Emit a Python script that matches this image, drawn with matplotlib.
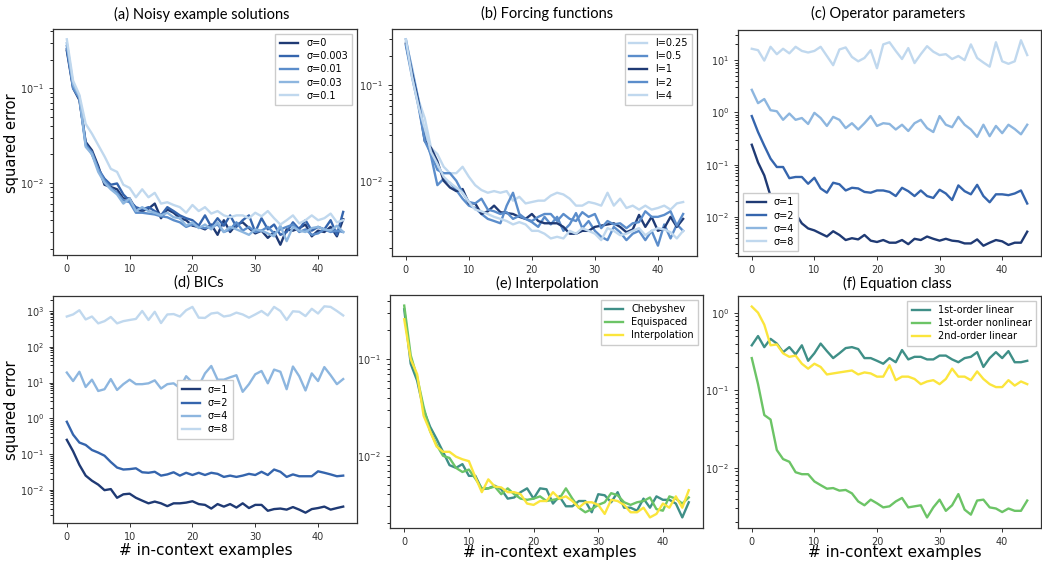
import matplotlib
matplotlib.use("Agg")
import matplotlib.pyplot as plt

x = list(range(45))

# (a) Noisy example solutions
a_labels = ["σ=0", "σ=0.003", "σ=0.01", "σ=0.03", "σ=0.1"]
a_s0 = [0.25, 0.10, 0.075, 0.027, 0.022, 0.015, 0.0095, 0.009, 0.0085, 0.0068, 0.0068, 0.0052, 0.0050, 0.0053, 0.0060,
        0.0042, 0.0052, 0.0048, 0.0042, 0.0040, 0.0035, 0.0034, 0.0032, 0.0036, 0.0028, 0.0040, 0.0030, 0.0036, 0.0038,
        0.0033, 0.0029, 0.0031, 0.0026, 0.0030, 0.0022, 0.0032, 0.0031, 0.0033, 0.0036, 0.0027, 0.0031, 0.0030, 0.0034,
        0.0027, 0.0041]
a_s1 = [0.26, 0.105, 0.08, 0.026, 0.020, 0.014, 0.011, 0.0095, 0.0098, 0.0075, 0.0064, 0.0055, 0.0052, 0.0055, 0.0050,
        0.0045, 0.0055, 0.0050, 0.0045, 0.0042, 0.0040, 0.0035, 0.0045, 0.0034, 0.0042, 0.0035, 0.0045, 0.0034, 0.0040,
        0.0045, 0.0030, 0.0042, 0.0032, 0.0036, 0.0028, 0.0030, 0.0038, 0.0032, 0.0040, 0.0031, 0.0034, 0.0032, 0.0040,
        0.0028, 0.0049]
a_s2 = [0.28, 0.10, 0.078, 0.025, 0.021, 0.014, 0.0105, 0.0088, 0.0078, 0.0065, 0.0062, 0.0048, 0.0048, 0.0047, 0.0046,
        0.0044, 0.0043, 0.0040, 0.0038, 0.0034, 0.0036, 0.0034, 0.0033, 0.0034, 0.0036, 0.0030, 0.0032, 0.0038, 0.0031,
        0.0034, 0.0030, 0.0031, 0.0034, 0.0029, 0.0032, 0.0034, 0.0036, 0.0030, 0.0032, 0.0028, 0.0029, 0.0032, 0.0030,
        0.0031, 0.0030]
a_s3 = [0.30, 0.11, 0.082, 0.024, 0.020, 0.013, 0.0100, 0.0085, 0.0075, 0.0060, 0.0068, 0.0050, 0.0055, 0.0050, 0.0048,
        0.0045, 0.0048, 0.0043, 0.0042, 0.0035, 0.0038, 0.0033, 0.0036, 0.0032, 0.0038, 0.0030, 0.0034, 0.0032, 0.0030,
        0.0028, 0.0032, 0.0031, 0.0029, 0.0027, 0.0035, 0.0024, 0.0034, 0.0031, 0.0030, 0.0033, 0.0034, 0.0032, 0.0031,
        0.0035, 0.0030]
a_s4 = [0.33, 0.12, 0.085, 0.042, 0.033, 0.025, 0.019, 0.014, 0.013, 0.0095, 0.0088, 0.0070, 0.0085, 0.0070, 0.0078,
        0.0060, 0.0062, 0.0058, 0.0055, 0.0048, 0.0058, 0.0050, 0.0055, 0.0047, 0.0050, 0.0045, 0.0043, 0.0045, 0.0045,
        0.0042, 0.0048, 0.0044, 0.0050, 0.0042, 0.0036, 0.0040, 0.0045, 0.0037, 0.0040, 0.0045, 0.0040, 0.0042, 0.0047,
        0.0038, 0.0040]

# (b) Forcing functions
b_labels = ["l=0.25", "l=0.5", "l=1", "l=2", "l=4"]
b_l025 = [0.28, 0.15, 0.07, 0.045, 0.022, 0.019, 0.014, 0.012, 0.012, 0.014, 0.011, 0.009, 0.008, 0.0075, 0.0078,
          0.0075, 0.0078, 0.0062, 0.0068, 0.0058, 0.0060, 0.0062, 0.0062, 0.0070, 0.0075, 0.0072, 0.0065, 0.0055, 0.0055,
          0.0060, 0.0058, 0.0055, 0.0075, 0.0055, 0.0065, 0.0052, 0.0055, 0.0050, 0.0055, 0.0050, 0.0052, 0.0055, 0.0050,
          0.0058, 0.0060]
b_l05 = [0.30, 0.14, 0.07, 0.03, 0.018, 0.009, 0.0105, 0.0095, 0.0080, 0.0065, 0.0055, 0.0052, 0.0045, 0.0040, 0.0038,
         0.0036, 0.0055, 0.0075, 0.0045, 0.0040, 0.0037, 0.0033, 0.0042, 0.0035, 0.0042, 0.0030, 0.0035, 0.0046, 0.0032,
         0.0038, 0.0030, 0.0026, 0.0024, 0.0033, 0.0029, 0.0024, 0.0028, 0.0030, 0.0024, 0.0030, 0.0021, 0.0035, 0.0025,
         0.0035, 0.0030]
b_l1 = [0.27, 0.13, 0.065, 0.026, 0.022, 0.016, 0.010, 0.0085, 0.0078, 0.0082, 0.0058, 0.0058, 0.0045, 0.0048, 0.0055,
        0.0047, 0.0046, 0.0045, 0.0042, 0.0040, 0.0045, 0.0038, 0.0036, 0.0036, 0.0036, 0.0033, 0.0028, 0.0028, 0.0030,
        0.0030, 0.0033, 0.0034, 0.0035, 0.0036, 0.0033, 0.0029, 0.0031, 0.0044, 0.0033, 0.0042, 0.0030, 0.0032, 0.0042,
        0.0033, 0.0040]
b_l2 = [0.26, 0.12, 0.06, 0.026, 0.019, 0.013, 0.012, 0.012, 0.010, 0.0075, 0.0060, 0.0058, 0.0065, 0.0050, 0.0048,
        0.0045, 0.0047, 0.0040, 0.0043, 0.0040, 0.0038, 0.0042, 0.0045, 0.0045, 0.0038, 0.0045, 0.0040, 0.0038, 0.0047,
        0.0042, 0.0045, 0.0032, 0.0038, 0.0035, 0.0036, 0.0032, 0.0036, 0.0037, 0.0048, 0.0042, 0.0042, 0.0044, 0.0048,
        0.0034, 0.0045]
b_l4 = [0.30, 0.12, 0.06, 0.035, 0.020, 0.015, 0.011, 0.0095, 0.0085, 0.0075, 0.0060, 0.0050, 0.0048, 0.0045, 0.0042,
        0.0040, 0.0038, 0.0035, 0.0037, 0.0035, 0.0030, 0.0030, 0.0028, 0.0025, 0.0026, 0.0025, 0.0030, 0.0028, 0.0032,
        0.0030, 0.0028, 0.0024, 0.0032, 0.0030, 0.0027, 0.0028, 0.0030, 0.0032, 0.0027, 0.0030, 0.0032, 0.0031, 0.0029,
        0.0025, 0.0030]

# (c) Operator parameters
c_labels = ["σ=1", "σ=2", "σ=4", "σ=8"]
c_s1 = [0.24, 0.11, 0.062, 0.025, 0.023, 0.017, 0.009, 0.0115, 0.0075, 0.006, 0.0055, 0.0048, 0.0042, 0.0053, 0.0045,
        0.0036, 0.0039, 0.0037, 0.0045, 0.0035, 0.0033, 0.0036, 0.0032, 0.0032, 0.0036, 0.0030, 0.0038, 0.0036, 0.0042,
        0.0038, 0.0035, 0.0038, 0.0035, 0.0034, 0.0031, 0.0031, 0.0037, 0.0028, 0.0032, 0.0036, 0.0034, 0.0029, 0.0032,
        0.0032, 0.0052]
c_s2 = [0.85, 0.42, 0.23, 0.13, 0.09, 0.09, 0.055, 0.058, 0.058, 0.043, 0.056, 0.035, 0.029, 0.045, 0.042, 0.032, 0.036,
        0.035, 0.030, 0.029, 0.032, 0.032, 0.030, 0.025, 0.036, 0.031, 0.025, 0.032, 0.025, 0.023, 0.033, 0.028, 0.021,
        0.040, 0.031, 0.027, 0.041, 0.025, 0.019, 0.027, 0.027, 0.026, 0.028, 0.032, 0.018]
c_s4 = [2.7, 1.5, 1.8, 1.1, 1.05, 0.72, 0.95, 0.72, 0.78, 0.6, 0.98, 0.78, 0.55, 0.82, 0.72, 0.5, 0.62, 0.47, 0.62, 0.85,
        0.55, 0.62, 0.6, 0.47, 0.58, 0.44, 0.62, 0.72, 0.5, 0.42, 0.85, 0.58, 0.52, 0.82, 0.58, 0.47, 0.34, 0.58, 0.35,
        0.55, 0.4, 0.58, 0.48, 0.38, 0.58]
c_s8 = [16.5, 15.5, 9.8, 18, 13, 16.5, 13.5, 18, 15, 14, 15, 18, 12, 8, 16, 17.5, 11.5, 9.5, 11, 15.5, 7, 20, 22, 15,
        10.5, 17, 8.8, 13, 18.5, 14.5, 12.5, 13, 10.5, 12, 10, 20, 11, 9, 7.5, 22, 9.5, 8.5, 9.5, 24, 12.5]

# (d) BICs
d_labels = ["σ=1", "σ=2", "σ=4", "σ=8"]
d_s1 = [0.25, 0.12, 0.05, 0.025, 0.018, 0.014, 0.0098, 0.0105, 0.006, 0.0075, 0.0078, 0.006, 0.005, 0.0042, 0.0047,
        0.0042, 0.0035, 0.0042, 0.0042, 0.0044, 0.0048, 0.0040, 0.0038, 0.0030, 0.0040, 0.0034, 0.0040, 0.0032, 0.0042,
        0.0031, 0.0038, 0.0038, 0.0026, 0.0029, 0.0030, 0.0028, 0.0033, 0.0028, 0.0023, 0.0029, 0.0031, 0.0034, 0.0028,
        0.0031, 0.0034]
d_s2 = [0.8, 0.35, 0.21, 0.18, 0.13, 0.11, 0.09, 0.06, 0.042, 0.037, 0.038, 0.04, 0.031, 0.03, 0.032, 0.025, 0.027,
        0.031, 0.025, 0.03, 0.026, 0.03, 0.026, 0.03, 0.028, 0.023, 0.025, 0.023, 0.025, 0.028, 0.026, 0.032, 0.026,
        0.037, 0.032, 0.023, 0.027, 0.024, 0.024, 0.024, 0.033, 0.03, 0.027, 0.024, 0.025]
d_s4 = [19, 11, 20, 7.5, 12, 5.8, 6.5, 12.5, 6.2, 9, 12, 9, 9, 9.5, 11.5, 6.8, 9, 9.5, 7, 15, 10, 8, 18, 29, 12, 12,
        14, 16, 5.5, 9, 17, 21, 9.5, 23, 20, 6.5, 28, 15, 6, 18, 11, 27, 16, 9, 12.5]
d_s8 = [700, 800, 1050, 580, 700, 450, 520, 680, 450, 520, 560, 600, 1000, 560, 950, 460, 800, 820, 700, 1050, 1300,
        650, 640, 850, 900, 700, 750, 900, 800, 650, 800, 1000, 750, 1300, 1000, 560, 980, 950, 720, 1150, 850, 1350,
        1300, 1000, 750]

# (e) Interpolation
e_labels = ["Chebyshev", "Equispaced", "Interpolation"]
e_cheb = [0.33, 0.09, 0.06, 0.03, 0.02, 0.015, 0.011, 0.008, 0.0075, 0.0082, 0.0062, 0.0062, 0.0045, 0.0046, 0.0049,
          0.0045, 0.0036, 0.0037, 0.0042, 0.0046, 0.0036, 0.0046, 0.0045, 0.0032, 0.0038, 0.0030, 0.0030, 0.0034, 0.0034,
          0.0026, 0.0040, 0.0039, 0.0033, 0.0042, 0.0029, 0.0029, 0.0027, 0.0036, 0.0029, 0.0038, 0.0035, 0.0035, 0.0032,
          0.0023, 0.0033]
e_equi = [0.36, 0.11, 0.065, 0.032, 0.018, 0.013, 0.010, 0.0095, 0.0075, 0.0068, 0.0072, 0.0058, 0.0046, 0.0046, 0.0048,
          0.0040, 0.0046, 0.0040, 0.0036, 0.0035, 0.0036, 0.0038, 0.0034, 0.0035, 0.0036, 0.0046, 0.0036, 0.0029, 0.0026,
          0.0028, 0.0031, 0.0033, 0.0041, 0.0039, 0.0033, 0.0031, 0.0033, 0.0034, 0.0037, 0.0028, 0.0027, 0.0038, 0.0036,
          0.0032, 0.0037]
e_interp = [0.26, 0.10, 0.07, 0.026, 0.018, 0.0125, 0.011, 0.011, 0.0098, 0.0092, 0.0088, 0.006, 0.0042, 0.0057, 0.0048,
            0.0047, 0.0042, 0.0042, 0.0040, 0.0032, 0.0031, 0.0034, 0.0034, 0.0042, 0.0036, 0.0038, 0.0034, 0.0029,
            0.0033, 0.0033, 0.0031, 0.0025, 0.0035, 0.0034, 0.0031, 0.0026, 0.0026, 0.0029, 0.0023, 0.0025, 0.0032,
            0.0029, 0.0038, 0.0029, 0.0044]

# (f) Equation class
f_labels = ["1st-order linear", "1st-order nonlinear", "2nd-order linear"]
f_lin1 = [0.38, 0.5, 0.36, 0.46, 0.4, 0.31, 0.36, 0.29, 0.38, 0.24, 0.3, 0.4, 0.32, 0.26, 0.3, 0.35, 0.36, 0.34, 0.26,
          0.26, 0.24, 0.22, 0.26, 0.23, 0.33, 0.25, 0.27, 0.27, 0.25, 0.25, 0.28, 0.28, 0.25, 0.23, 0.26, 0.27, 0.31, 0.2,
          0.26, 0.31, 0.26, 0.32, 0.23, 0.23, 0.24]
f_nonlin1 = [0.26, 0.12, 0.048, 0.042, 0.017, 0.013, 0.012, 0.0088, 0.0083, 0.0083, 0.0067, 0.006, 0.0054, 0.0055,
             0.0051, 0.0052, 0.0047, 0.0037, 0.0033, 0.0039, 0.0035, 0.0031, 0.0032, 0.0037, 0.0041, 0.0031, 0.0032,
             0.0033, 0.0023, 0.0031, 0.0039, 0.0028, 0.0033, 0.0046, 0.0029, 0.0025, 0.0038, 0.0039, 0.0031, 0.0030,
             0.0027, 0.0030, 0.0028, 0.0028, 0.0038]
f_lin2 = [1.2, 1.0, 0.7, 0.38, 0.39, 0.3, 0.27, 0.28, 0.22, 0.19, 0.22, 0.2, 0.16, 0.165, 0.17, 0.175, 0.18, 0.16, 0.17,
          0.165, 0.15, 0.15, 0.21, 0.135, 0.15, 0.15, 0.14, 0.12, 0.13, 0.135, 0.12, 0.14, 0.19, 0.15, 0.15, 0.135, 0.175,
          0.14, 0.12, 0.11, 0.11, 0.135, 0.115, 0.13, 0.12]

# ---------------- styling ----------------
W, H = 1042, 566
fig = plt.figure(figsize=(W / 100, H / 100), dpi=100)

NAVY, B2, B3, B4, B5 = "#1f3a74", "#3565ad", "#5b8dcb", "#8db6df", "#c0d8ee"
TEAL, GREEN, YELLOW = "#3f8f87", "#6cc466", "#fbe53c"

TITLE_FONT = dict(family="Lato", fontsize=10.5)
LABEL_FS = 11
LW = 1.7


def make_ax(x0, y0, x1, y1):
    ax = fig.add_axes([x0 / W, 1 - y1 / H, (x1 - x0) / W, (y1 - y0) / H])
    ax.set_yscale("log")
    ax.tick_params(labelsize=7, colors="#333333", length=3, width=0.7)
    for s in ax.spines.values():
        s.set_color("#333333")
        s.set_linewidth(0.9)
    ax.set_xticks([0, 10, 20, 30, 40])
    return ax


def title(xc, yc, text):
    fig.text(xc / W, 1 - yc / H, text, ha="center", va="center", **TITLE_FONT)


def ylabel(xc, yc):
    fig.text(xc / W, 1 - yc / H, "squared error", rotation=90, ha="center", va="center",
             fontsize=10.5, family="DejaVu Sans")


def xlabel(xc, yc):
    fig.text(xc / W, 1 - yc / H, "# in-context examples", ha="center", va="center",
             fontsize=LABEL_FS, family="DejaVu Sans")


leg_kw = dict(fontsize=7, handlelength=1.9, borderpad=0.45, labelspacing=0.32, framealpha=1,
              edgecolor="#cccccc", fancybox=False)

# (a)
ax = make_ax(53, 29, 357, 255)
for ys, c, lab in zip([a_s0, a_s1, a_s2, a_s3, a_s4], [NAVY, B2, B3, B4, B5], a_labels):
    ax.plot(x, ys, color=c, lw=LW, label=lab)
ax.legend(loc="upper right", **leg_kw)
ylabel(12, 143)
title(202, 14, "(a) Noisy example solutions")

# (b)
ax = make_ax(392, 29, 697, 256)
for ys, c, lab in zip([b_l025, b_l05, b_l1, b_l2, b_l4], [B5, B3, NAVY, B3, B5], b_labels):
    ax.plot(x, ys, color=c, lw=LW, label=lab)
ax.legend(loc="upper right", **leg_kw)
title(547, 13, "(b) Forcing functions")

# (c)
ax = make_ax(738, 30, 1041, 256)
for ys, c, lab in zip([c_s1, c_s2, c_s4, c_s8], [NAVY, B2, B4, B5], c_labels):
    ax.plot(x, ys, color=c, lw=LW, label=lab)
ax.legend(loc="lower left", **leg_kw)
title(888, 13, "(c) Operator parameters")

# (d)
ax = make_ax(53, 296, 357, 523)
for ys, c, lab in zip([d_s1, d_s2, d_s4, d_s8], [NAVY, B2, B4, B5], d_labels):
    ax.plot(x, ys, color=c, lw=LW, label=lab)
ax.legend(loc="center", **leg_kw)
ylabel(12, 410)
xlabel(206, 551)
title(199, 283, "(d) BICs")

# (e)
ax = make_ax(390, 295, 703, 528)
for ys, c, lab in zip([e_cheb, e_equi, e_interp], [TEAL, GREEN, YELLOW], e_labels):
    ax.plot(x, ys, color=c, lw=LW, label=lab)
ax.legend(loc="upper right", **leg_kw)
xlabel(550, 553)
title(547, 283, "(e) Interpolation")

# (f)
ax = make_ax(738, 296, 1041, 528)
for ys, c, lab in zip([f_lin1, f_nonlin1, f_lin2], [TEAL, GREEN, YELLOW], f_labels):
    ax.plot(x, ys, color=c, lw=LW, label=lab)
ax.legend(loc="upper right", **leg_kw)
xlabel(895, 553)
title(897, 283, "(f) Equation class")

fig.savefig("out.png", dpi=100)
